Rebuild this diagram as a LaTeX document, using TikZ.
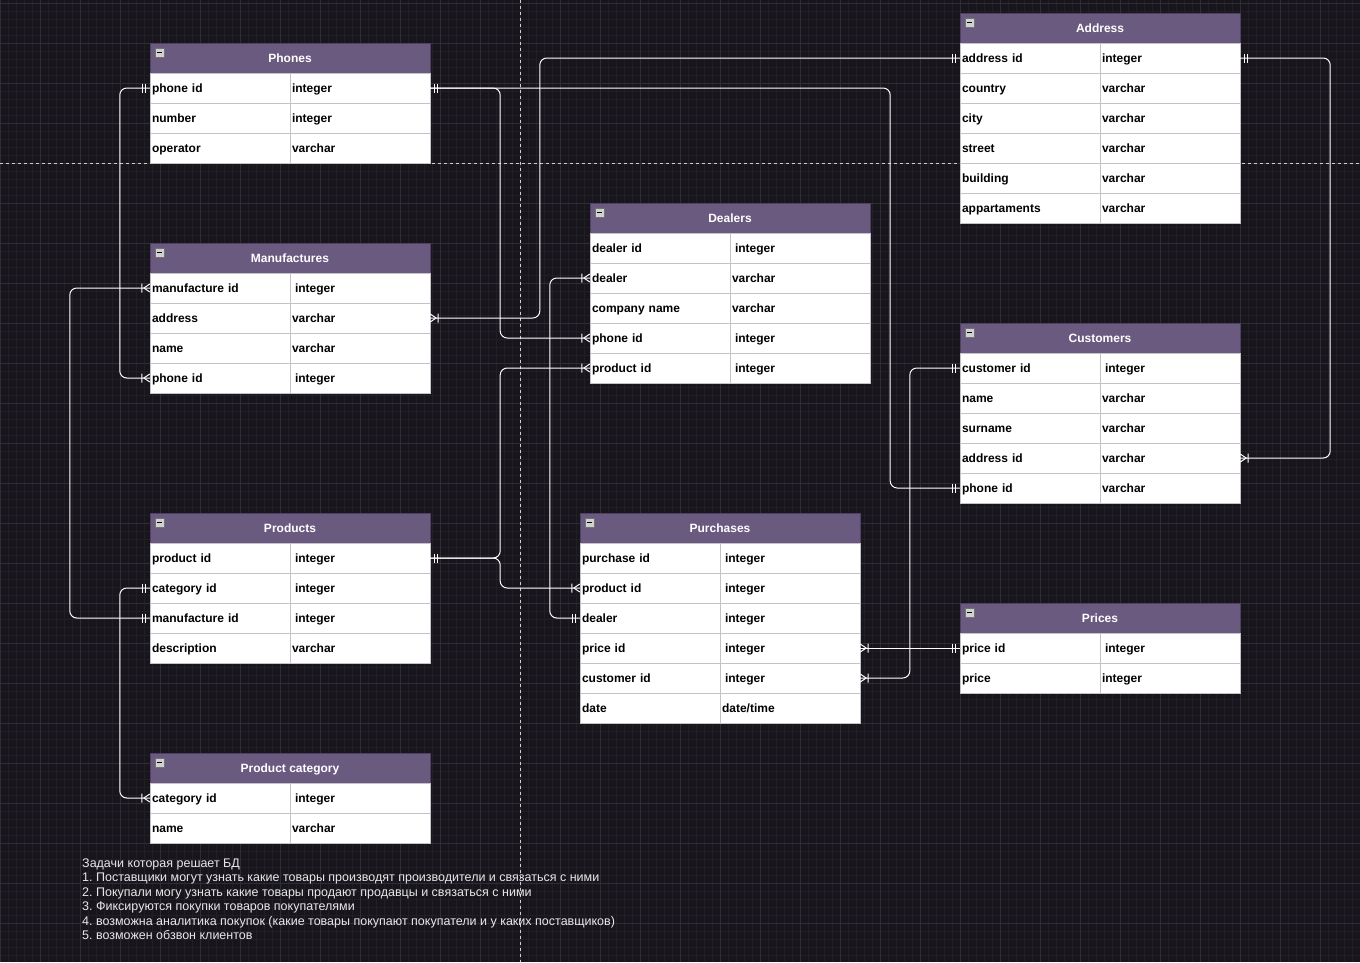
\documentclass[tikz,border=0pt]{standalone}
\usepackage{fontspec}
\setmainfont{Liberation Sans}
\frenchspacing
\definecolor{bgc}{HTML}{18161C}
\definecolor{gridminor}{HTML}{211F26}
\definecolor{gridmajor}{HTML}{2F2D35}
\definecolor{hdrc}{HTML}{6A5A80}
\definecolor{hdrline}{HTML}{4F4164}
\definecolor{cellline}{HTML}{C4C1C9}
\definecolor{pagec}{HTML}{CFCFCF}
\definecolor{notec}{HTML}{E8E8E8}
\newcommand\xpad{\hspace*{3pt}}
\newcommand\ertable[4]{%
  \node[hdr] (#1-h) at ({#2+140},{#3+15}) {#4};
  \draw[fill=black!18, draw=black!55, line width=0.6pt] ({#2+5},{#3+5}) rectangle ({#2+14},{#3+14});
  \draw[line width=1.6pt, black] ({#2+7},{#3+9.5}) -- ({#2+12},{#3+9.5});
}
\newcommand\errow[6]{%
  \node[cell] (#1-#4l) at ({#2+70},{#3+15+30*#4}) {#5};
  \node[cell] (#1-#4r) at ({#2+210},{#3+15+30*#4}) {#6};
}
% mandatory one: two bars; #1 point, #2 direction (+1 right, -1 left)
\newcommand\mandone[2]{%
  \draw[mk, shift={(#1)}] ({#2*4.5},-4.5) -- ({#2*4.5},4.5) ({#2*7.5},-4.5) -- ({#2*7.5},4.5);
}
% one to many: crow's foot plus bar
\newcommand\onemany[2]{%
  \draw[mk, shift={(#1)}] (0,-4) -- ({#2*6},0) -- (0,4) ({#2*8},-4.5) -- ({#2*8},4.5);
}
\tikzset{
  hdr/.style={fill=hdrc, draw=hdrline, minimum width=280pt, minimum height=30pt, inner sep=0pt,
    text height=10pt, text depth=1.4pt,
    text=white, font=\fontsize{12}{14}\selectfont\bfseries},
  cell/.style={fill=white, draw=cellline, minimum height=30pt, inner xsep=2pt, inner ysep=0pt,
    text height=10pt, text depth=1.4pt,
    text width=136pt, align=left, font=\fontsize{12}{14}\selectfont\bfseries, text=black},
  conn/.style={draw=white, line width=1pt, rounded corners=7pt},
  mk/.style={draw=white, line width=1pt},
  pageline/.style={draw=pagec, line width=0.8pt, dash pattern=on 3pt off 3pt},
}
\begin{document}
\begin{tikzpicture}[x=1pt,y=-1pt]
\useasboundingbox (0,0) rectangle (1360,962);
\clip (0,0) rectangle (1360,962);
\fill[bgc] (0,0) rectangle (1360,962);
% grid
\foreach \x in {0,8,...,1360} \draw[gridminor, line width=0.8pt] (\x,0) -- (\x,962);
\foreach \y in {3,11,...,962} \draw[gridminor, line width=0.8pt] (0,\y) -- (1360,\y);
\foreach \x in {0,40,...,1360} \draw[gridmajor, line width=0.9pt] (\x,0) -- (\x,962);
\foreach \y in {3,43,...,962} \draw[gridmajor, line width=0.9pt] (0,\y) -- (1360,\y);
% page break lines
\draw[pageline] (520,0) -- (520,962);
\draw[pageline] (0,163) -- (1360,163);

% ---------- tables ----------
\ertable{ph}{150}{43}{Phones}
\errow{ph}{150}{43}{1}{phone id}{integer}
\errow{ph}{150}{43}{2}{number}{integer}
\errow{ph}{150}{43}{3}{operator}{varchar}

\ertable{mf}{150}{243}{Manufactures}
\errow{mf}{150}{243}{1}{manufacture id}{\xpad integer}
\errow{mf}{150}{243}{2}{address}{varchar}
\errow{mf}{150}{243}{3}{name}{varchar}
\errow{mf}{150}{243}{4}{phone id}{\xpad integer}

\ertable{dl}{590}{203}{Dealers}
\errow{dl}{590}{203}{1}{dealer id}{\xpad integer}
\errow{dl}{590}{203}{2}{dealer}{varchar}
\errow{dl}{590}{203}{3}{company name}{varchar}
\errow{dl}{590}{203}{4}{phone id}{\xpad integer}
\errow{dl}{590}{203}{5}{product id}{\xpad integer}

\ertable{ad}{960}{13}{Address}
\errow{ad}{960}{13}{1}{address id}{integer}
\errow{ad}{960}{13}{2}{country}{varchar}
\errow{ad}{960}{13}{3}{city}{varchar}
\errow{ad}{960}{13}{4}{street}{varchar}
\errow{ad}{960}{13}{5}{building}{varchar}
\errow{ad}{960}{13}{6}{appartaments}{varchar}

\ertable{cu}{960}{323}{Customers}
\errow{cu}{960}{323}{1}{customer id}{\xpad integer}
\errow{cu}{960}{323}{2}{name}{varchar}
\errow{cu}{960}{323}{3}{surname}{varchar}
\errow{cu}{960}{323}{4}{address id}{varchar}
\errow{cu}{960}{323}{5}{phone id}{varchar}

\ertable{pr}{150}{513}{Products}
\errow{pr}{150}{513}{1}{product id}{\xpad integer}
\errow{pr}{150}{513}{2}{category id}{\xpad integer}
\errow{pr}{150}{513}{3}{manufacture id}{\xpad integer}
\errow{pr}{150}{513}{4}{description}{varchar}

\ertable{pu}{580}{513}{Purchases}
\errow{pu}{580}{513}{1}{purchase id}{\xpad integer}
\errow{pu}{580}{513}{2}{product id}{\xpad integer}
\errow{pu}{580}{513}{3}{dealer}{\xpad integer}
\errow{pu}{580}{513}{4}{price id}{\xpad integer}
\errow{pu}{580}{513}{5}{customer id}{\xpad integer}
\errow{pu}{580}{513}{6}{date}{date/time}

\ertable{pc}{960}{603}{Prices}
\errow{pc}{960}{603}{1}{price id}{\xpad integer}
\errow{pc}{960}{603}{2}{price}{integer}

\ertable{ct}{150}{753}{Product category}
\errow{ct}{150}{753}{1}{category id}{\xpad integer}
\errow{ct}{150}{753}{2}{name}{varchar}

% ---------- connectors ----------
\draw[conn] (ph-1l.west) -- ++(-30,0) |- (mf-4l.west);
\draw[conn] (ph-1r.east) -- ++(70,0) |- (dl-4l.west);
\draw[conn] (ph-1r.east) -- ++(460,0) |- (cu-5l.west);
\draw[conn] (ad-1l.west) -- ++(-420,0) |- (mf-2r.east);
\draw[conn] (ad-1r.east) -- ++(90,0) |- (cu-4r.east);
\draw[conn] (mf-1l.west) -- ++(-80,0) |- (pr-3l.west);
\draw[conn] (pr-1r.east) -- ++(70,0) |- (dl-5l.west);
\draw[conn] (pr-1r.east) -- ++(70,0) |- (pu-2l.west);
\draw[conn] (dl-2l.west) -- ++(-40,0) |- (pu-3l.west);
\draw[conn] (pr-2l.west) -- ++(-30,0) |- (ct-1l.west);
\draw[conn] (pc-1l.west) -- (pu-4r.east);
\draw[conn] (cu-1l.west) -- ++(-50,0) |- (pu-5r.east);

% ---------- markers ----------
\mandone{ph-1l.west}{-1}
\onemany{mf-4l.west}{-1}
\mandone{ph-1r.east}{1}
\onemany{dl-4l.west}{-1}
\mandone{cu-5l.west}{-1}
\mandone{ad-1l.west}{-1}
\onemany{mf-2r.east}{1}
\mandone{ad-1r.east}{1}
\onemany{cu-4r.east}{1}
\onemany{mf-1l.west}{-1}
\mandone{pr-3l.west}{-1}
\mandone{pr-1r.east}{1}
\onemany{dl-5l.west}{-1}
\onemany{pu-2l.west}{-1}
\onemany{dl-2l.west}{-1}
\mandone{pu-3l.west}{-1}
\mandone{pr-2l.west}{-1}
\onemany{ct-1l.west}{-1}
\mandone{pc-1l.west}{-1}
\onemany{pu-4r.east}{1}
\mandone{cu-1l.west}{-1}
\onemany{pu-5r.east}{1}

% ---------- notes ----------
\node[anchor=north west, inner sep=0pt, align=left, text=notec,
  font=\fontsize{12.5}{14.4}\selectfont] (notes) at (82,858.5) {%
Задачи которая решает БД\\
1. Поставщики могут узнать какие товары производят производители и связаться с ними\\
2. Покупали могу узнать какие товары продают продавцы и связаться с ними\\
3. Фиксируются покупки товаров покупателями\\
4. возможна аналитика покупок (какие товары покупают покупатели и у каких поставщиков)\\
5. возможен обзвон клиентов};
\end{tikzpicture}
\end{document}
